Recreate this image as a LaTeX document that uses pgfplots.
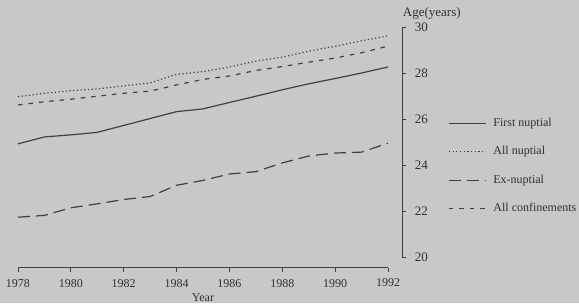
\documentclass[border=0pt]{standalone}
\usepackage{pgfplots}
\pgfplotsset{compat=1.18}
\usepackage{fontspec}
\setmainfont{Liberation Serif}
\definecolor{bg}{RGB}{200,200,200}
\definecolor{ln}{RGB}{64,64,64}
\definecolor{tx}{RGB}{48,48,48}
\pgfplotstableread{
year first allnup exnup allconf
1978 24.92 26.97 21.73 26.61
1979 25.22 27.12 21.81 26.75
1980 25.31 27.23 22.14 26.86
1981 25.42 27.31 22.31 26.99
1982 25.72 27.44 22.50 27.12
1983 26.02 27.57 22.63 27.21
1984 26.32 27.94 23.12 27.48
1985 26.44 28.06 23.33 27.72
1986 26.72 28.26 23.61 27.87
1987 26.99 28.52 23.71 28.11
1988 27.27 28.69 24.09 28.28
1989 27.53 28.95 24.39 28.47
1990 27.76 29.16 24.52 28.65
1991 28.00 29.40 24.56 28.88
1992 28.26 29.62 24.95 29.17
}\datatable
\begin{document}
\begin{tikzpicture}[x=1pt,y=1pt]
\fill[bg] (-18,-46) rectangle (561,257);
\useasboundingbox (-18,-46) rectangle (561,257);
% data axis
\begin{axis}[
  at={(0pt,0pt)}, anchor=south west,
  scale only axis, width=370pt, height=230pt,
  xmin=1978, xmax=1992, ymin=20, ymax=30,
  hide axis, clip=false,
  legend cell align=left,
  legend image code/.code={\draw[#1] (0pt,0pt) -- (37pt,0pt);},
  legend style={draw=none, fill=none, at={(1.1622,0.6087)}, anchor=north west,
    inner sep=0pt, font=\fontsize{12}{14}\selectfont, text=tx, row sep=16.5pt,
    nodes={inner sep=0pt, text height=9pt, text depth=3pt},
    /tikz/every odd column/.style={column sep=7pt}},
]
\addplot[ln, line width=1.2pt] table[x=year, y=first] {\datatable};
\addlegendentry{First nuptial}
\addplot[ln, line width=1.2pt, dash pattern=on 1.2pt off 2.5pt] table[x=year, y=allnup] {\datatable};
\addlegendentry{All nuptial}
\addplot[ln, line width=1.2pt, dash pattern=on 12pt off 6pt] table[x=year, y=exnup] {\datatable};
\addlegendentry{Ex-nuptial}
\addplot[ln, line width=1.2pt, dash pattern=on 4.5pt off 6pt] table[x=year, y=allconf] {\datatable};
\addlegendentry{All confinements}
\end{axis}
% x axis
\begin{axis}[
  at={(0pt,-10.5pt)}, anchor=south west,
  scale only axis, width=370pt, height=5pt,
  xmin=1978, xmax=1992, ymin=0, ymax=1,
  axis x line*=bottom, hide y axis,
  x axis line style={-, ln, line width=0.9pt},
  xtick={1978,1980,...,1992},
  tick align=outside, major tick length=4pt,
  xtick style={ln, line width=0.9pt},
  xticklabel style={font=\fontsize{12}{14}\selectfont, text=tx, yshift=-4pt},
  /pgf/number format/1000 sep={},
  /pgf/number format/assume math mode=true,
]
\end{axis}
% y axis
\begin{axis}[
  at={(379.3pt,0pt)}, anchor=south west,
  scale only axis, width=5pt, height=230pt,
  xmin=0, xmax=1, ymin=20, ymax=30,
  hide x axis, axis y line*=right,
  y axis line style={-, ln, line width=0.9pt},
  ytick={20,22,...,30},
  tick align=outside, major tick length=4pt,
  ytick style={ln, line width=0.9pt},
  yticklabel style={font=\fontsize{13}{15}\selectfont, text=tx, xshift=5pt},
  /pgf/number format/assume math mode=true,
]
\end{axis}
\node[anchor=base west, inner sep=0pt, font=\fontsize{13}{15}\selectfont, text=tx] at (384.7,240) {Age(years)};
\node[anchor=base, inner sep=0pt, font=\fontsize{12}{14}\selectfont, text=tx] at (185,-44) {Year};
\end{tikzpicture}
\end{document}
